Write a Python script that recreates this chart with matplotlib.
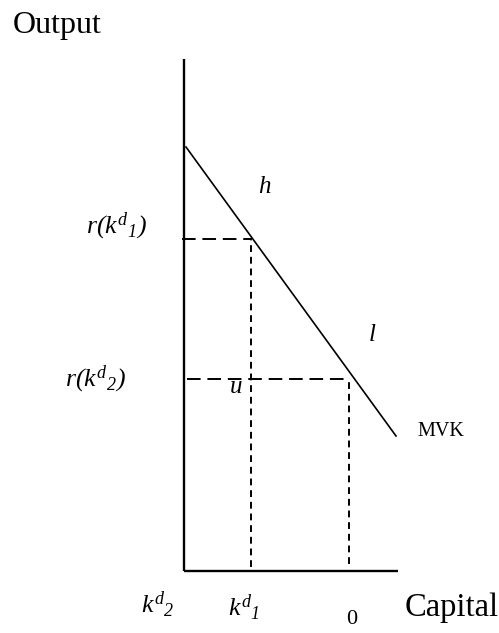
import matplotlib
matplotlib.use("Agg")
import matplotlib.pyplot as plt

plt.rcParams['font.family'] = ['Liberation Serif', 'DejaVu Serif']
plt.rcParams['mathtext.fontset'] = 'custom'
plt.rcParams['mathtext.rm'] = 'Liberation Serif:italic'
plt.rcParams['mathtext.it'] = 'Liberation Serif:italic'
plt.rcParams['mathtext.bf'] = 'Liberation Serif:bold'

# ---- schematic data (capital on x, output on y) ----
axis_x_end = 214          # end of capital axis
axis_y_top = 512          # top of output axis
mvk_k = [2, 212]          # MVK curve endpoints (capital)
mvk_r = [424, 135]        # MVK curve endpoints (output)
k1 = 67                   # k^d_1
k2 = 165                  # point under l
r1 = 332                  # r(k^d_1)
r2 = 192                  # r(k^d_2)

labels_y = [r'$r(k^{d}{}_{1})$', r'$r(k^{d}{}_{2})$']
labels_x = [r'$k^{d}{}_{2}$', r'$k^{d}{}_{1}$', '0']

fig = plt.figure(figsize=(4.99, 6.33), dpi=100)
ax = fig.add_axes([0, 0, 1, 1])
ax.set_xlim(-184, 315)
ax.set_ylim(-62, 571)
ax.axis('off')

# axes
ax.plot([0, 0], [0, axis_y_top], color='black', lw=1.7, solid_capstyle='butt')
ax.plot([0, axis_x_end], [0, 0], color='black', lw=1.7, solid_capstyle='butt')

# MVK line
ax.plot(mvk_k, mvk_r, color='black', lw=1.2)

# dashed guides
hd = dict(color='black', lw=1.4, dashes=(7, 3.5))
vd = dict(color='black', lw=1.4, dashes=(3.5, 2.5))
ax.plot([-2, k1 + 1], [r1, r1], **hd)
ax.plot([3, k2 + 1], [r2, r2], **hd)
ax.plot([k1, k1], [4, r1], **vd)
ax.plot([k2, k2], [7, r2], **vd)

# texts
ax.text(-171, 545, 'Output', fontsize=23, ha='left', va='center')
ax.text(221, -37, 'Capital', fontsize=23.5, ha='left', va='center')
ax.text(257, 140, 'MVK', fontsize=14.5, ha='center', va='center')
ax.text(81, 384, r'$h$', fontsize=18, ha='center', va='center')
ax.text(188, 236, r'$l$', fontsize=18, ha='center', va='center')
ax.text(52, 184, r'$u$', fontsize=18, ha='center', va='center')

ax.text(-68, 345, labels_y[0], fontsize=18.5, ha='center', va='center')
ax.text(-89, 192, labels_y[1], fontsize=18.5, ha='center', va='center')

ax.text(-26, -34, labels_x[0], fontsize=18.5, ha='center', va='center')
ax.text(60, -37, labels_x[1], fontsize=18.5, ha='center', va='center')
ax.text(168, -49, labels_x[2], fontsize=16, ha='center', va='center')

fig.savefig('out.png', dpi=100)
